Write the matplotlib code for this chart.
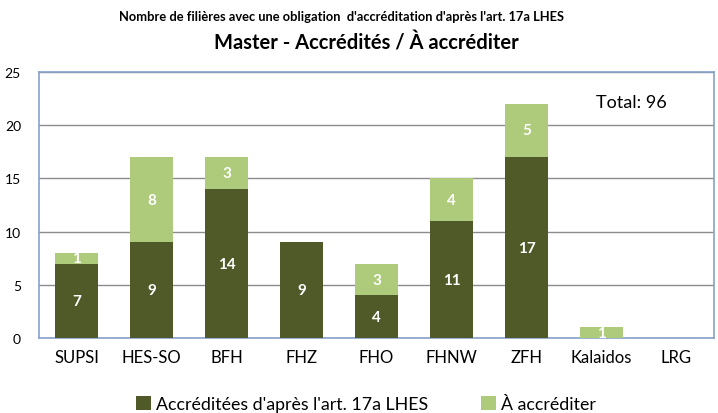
import matplotlib
matplotlib.use("Agg")
import matplotlib.pyplot as plt
import numpy as np

categories = ["SUPSI", "HES-SO", "BFH", "FHZ", "FHO", "FHNW", "ZFH", "Kalaidos", "LRG"]
accredited = [7, 9, 14, 9, 4, 11, 17, 0, 0]
to_accredit = [1, 8, 3, 0, 3, 4, 5, 1, 0]
yticks = [0, 5, 10, 15, 20, 25]

dark = "#4F5A28"
light = "#AECB7B"

plt.rcParams['font.family'] = ['Lato', 'DejaVu Sans']

fig = plt.figure(figsize=(7.18, 4.14), dpi=100)
ax = fig.add_axes([0.0543, 0.181, 0.940, 0.643])

x = np.arange(len(categories))
w = 0.57
b1 = ax.bar(x, accredited, w, color=dark, label="Accréditées d'après l'art. 17a LHES", zorder=3)
b2 = ax.bar(x, to_accredit, w, bottom=accredited, color=light, label="À accréditer", zorder=3)

for xi, a, t in zip(x, accredited, to_accredit):
    if a > 0:
        ax.text(xi, a / 2, str(a), ha='center', va='center', color='white',
                fontsize=11, fontweight='bold', zorder=4)
    if t > 0:
        ax.text(xi, a + t / 2, str(t), ha='center', va='center', color='white',
                fontsize=11, fontweight='bold', zorder=4)

ax.set_xlim(-0.5, len(categories) - 0.5)
ax.set_ylim(0, 25)
ax.set_yticks(yticks)
ax.yaxis.grid(True, color='#8C8C8C', linewidth=1, zorder=0)
ax.tick_params(axis='y', length=0, labelsize=10, pad=13)
ax.tick_params(axis='x', length=0, labelsize=12, pad=8)
ax.set_xticks(x)
ax.set_xticklabels(categories)
for s in ax.spines.values():
    s.set_color('#86A2CB')
    s.set_linewidth(1.2)

ax.text(0.878, 0.887, "Total: 96", transform=ax.transAxes, ha='center', va='center', fontsize=13)

fig.text(0.476, 0.959, "Nombre de filières avec une obligation  d'accréditation d'après l'art. 17a LHES",
         ha='center', va='center', fontsize=9.3, fontweight='bold')
fig.text(0.51, 0.894, "Master - Accrédités / À accréditer", ha='center', va='center',
         fontsize=14.5, fontweight='bold')

fig.legend(handles=[b1, b2], loc='center', bbox_to_anchor=(0.51, 0.022), ncol=2,
           frameon=False, fontsize=12.8, handlelength=0.8, handleheight=0.8,
           handletextpad=0.3, columnspacing=3.0)

fig.savefig("out.png", dpi=100)
